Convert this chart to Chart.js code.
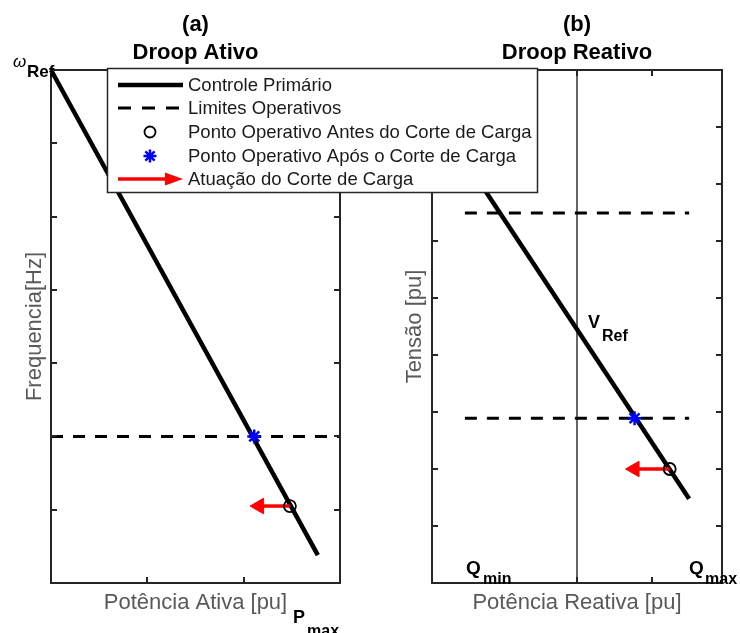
<!DOCTYPE html>
<html>
<head>
<meta charset="utf-8">
<title>Droop Ativo / Droop Reativo</title>
<script src="https://cdn.jsdelivr.net/npm/chart.js@4.4.1/dist/chart.umd.min.js"></script>
<style>
  html, body { margin: 0; padding: 0; background: #ffffff; }
  #wrap { position: relative; width: 740px; height: 633px; }
  #wrap canvas { position: absolute; left: 0; top: 0; }
</style>
</head>
<body>
<div id="wrap">
  <canvas id="painelA" width="740" height="633"></canvas>
  <canvas id="painelB" width="740" height="633"></canvas>
</div>
<script>
// ---- (a) Droop Ativo: frequência x potência ativa ----
const eixoAtivoX = [0, 3];
const eixoAtivoY = [0, 7];
const ticksAtivoX = [1, 2];
const ticksAtivoY = [1, 2, 3, 4, 5, 6];
const droopAtivoX = [0, 2.77];
const droopAtivoY = [7, 0.38];
const limiteAtivoX = [0, 3];
const limiteAtivoY = [2, 2];
const antesAtivoX = [2.48];
const antesAtivoY = [1.05];
const aposAtivoX = [2.11];
const aposAtivoY = [2];
const corteAtivoX = [2.48, 2.16];
const corteAtivoY = [1.05, 1.05];

// ---- (b) Droop Reativo: tensão x potência reativa ----
const eixoReativoX = [-1.94, 1.94];
const eixoReativoY = [0, 9];
const ticksReativoX = [0, 1];
const ticksReativoY = [1, 2, 3, 4, 5, 6, 7, 8];
const droopReativoX = [-1.5, 1.5];
const droopReativoY = [7.42, 1.48];
const limiteReativoX = [-1.5, 1.5];
const limiteSupY = [6.49, 6.49];
const limiteInfY = [2.89, 2.89];
const zeroReativoX = [0, 0];
const zeroReativoY = [0, 9];
const antesReativoX = [1.24];
const antesReativoY = [2.0];
const aposReativoX = [0.77];
const aposReativoY = [2.89];
const corteReativoX = [1.24, 0.77];
const corteReativoY = [2.0, 2.0];

// ---- legenda ----
const legendaTextos = [
  'Controle Primário',
  'Limites Operativos',
  'Ponto Operativo Antes do Corte de Carga',
  'Ponto Operativo Após o Corte de Carga',
  'Atuação do Corte de Carga'
];

const FONTE = '"Liberation Sans", Arial, Helvetica, sans-serif';
const COR_EIXO = '#262626';
const COR_ROTULO = '#595959';

function pts(xs, ys) { return xs.map((x, i) => ({ x: x, y: ys[i] })); }

// estilos das séries
const estiloDroop = { showLine: true, borderColor: '#000000', borderWidth: 4.5, pointRadius: 0, borderCapStyle: 'butt' };
const estiloLimite = { showLine: true, borderColor: '#000000', borderWidth: 3, borderDash: [12, 10], pointRadius: 0 };
const estiloAntes = { showLine: false, pointStyle: 'circle', pointRadius: 6, pointBorderWidth: 1.8,
  pointBorderColor: '#000000', pointBackgroundColor: 'rgba(0,0,0,0)' };
const estiloApos = { showLine: false, pointStyle: 'star', pointRadius: 7, pointBorderWidth: 2.5,
  pointBorderColor: '#0000ff', pointBackgroundColor: '#0000ff' };
const estiloCorte = { showLine: true, borderColor: '#ff0000', borderWidth: 3.5, pointStyle: 'triangle',
  pointRadius: [0, 9], pointRotation: -90, pointBackgroundColor: '#ff0000', pointBorderColor: '#ff0000', pointBorderWidth: 1 };

function serie(label, data, estilo, order) {
  return Object.assign({ label: label, data: data, order: order, clip: false }, estilo);
}

// moldura, marcas de escala internas, títulos e rótulos
function molduraPlugin(cfg) {
  return {
    id: 'moldura',
    afterDatasetsDraw(chart) {
      const ctx = chart.ctx;
      const a = chart.chartArea;
      const sx = chart.scales.x, sy = chart.scales.y;
      ctx.save();
      ctx.strokeStyle = COR_EIXO;
      ctx.lineWidth = 2;
      ctx.strokeRect(a.left, a.top, a.right - a.left, a.bottom - a.top);
      const L = 6;
      ctx.beginPath();
      cfg.ticksY.forEach(v => {
        const py = Math.round(sy.getPixelForValue(v));
        ctx.moveTo(a.left, py); ctx.lineTo(a.left + L, py);
        ctx.moveTo(a.right, py); ctx.lineTo(a.right - L, py);
      });
      cfg.ticksX.forEach(v => {
        const px = Math.round(sx.getPixelForValue(v));
        ctx.moveTo(px, a.bottom); ctx.lineTo(px, a.bottom - L);
        ctx.moveTo(px, a.top); ctx.lineTo(px, a.top + L);
      });
      ctx.stroke();

      const cx = (a.left + a.right) / 2;
      ctx.fillStyle = '#000000';
      ctx.textAlign = 'center';
      ctx.textBaseline = 'alphabetic';
      ctx.font = 'bold 22px ' + FONTE;
      ctx.fillText(cfg.titulo[0], cx, 31);
      ctx.fillText(cfg.titulo[1], cx, 59);

      ctx.fillStyle = COR_ROTULO;
      ctx.font = '22px ' + FONTE;
      ctx.fillText(cfg.rotuloX, cx, 609);

      ctx.save();
      ctx.translate(cfg.rotuloYx, (a.top + a.bottom) / 2);
      ctx.rotate(-Math.PI / 2);
      ctx.fillText(cfg.rotuloY, 0, 0);
      ctx.restore();

      ctx.textAlign = 'left';
      cfg.notas(ctx, a);
      ctx.restore();
    }
  };
}

function texto(ctx, s, x, y, fonte) {
  ctx.fillStyle = '#000000';
  ctx.font = fonte;
  ctx.fillText(s, x, y);
}

// legenda comum às duas figuras
const legendaPlugin = {
  id: 'legendaComum',
  afterDraw(chart) {
    const ctx = chart.ctx;
    const x0 = 107, y0 = 68, w = 431, h = 125;
    const linhas = [85, 108, 132, 156, 179];
    const xa = 118, xb = 183, xm = 150;
    ctx.save();
    ctx.fillStyle = '#ffffff';
    ctx.fillRect(x0, y0, w, h);
    ctx.strokeStyle = COR_EIXO;
    ctx.lineWidth = 1.5;
    ctx.strokeRect(x0 + 0.5, y0 + 0.5, w - 1, h - 1);

    // Controle Primário
    ctx.strokeStyle = estiloDroop.borderColor;
    ctx.lineWidth = estiloDroop.borderWidth;
    ctx.beginPath(); ctx.moveTo(xa, linhas[0]); ctx.lineTo(xb, linhas[0]); ctx.stroke();
    // Limites Operativos
    ctx.lineWidth = estiloLimite.borderWidth;
    ctx.setLineDash([13, 11]);
    ctx.beginPath(); ctx.moveTo(xa, linhas[1]); ctx.lineTo(xb, linhas[1]); ctx.stroke();
    ctx.setLineDash([]);
    // marcadores
    const H = Chart.helpers;
    ctx.strokeStyle = estiloAntes.pointBorderColor;
    ctx.fillStyle = estiloAntes.pointBackgroundColor;
    ctx.lineWidth = estiloAntes.pointBorderWidth;
    H.drawPoint(ctx, { pointStyle: 'circle', radius: 5.5, rotation: 0, borderWidth: estiloAntes.pointBorderWidth }, xm, linhas[2]);
    ctx.strokeStyle = estiloApos.pointBorderColor;
    ctx.fillStyle = estiloApos.pointBackgroundColor;
    ctx.lineWidth = estiloApos.pointBorderWidth;
    H.drawPoint(ctx, { pointStyle: 'star', radius: 6.5, rotation: 0, borderWidth: estiloApos.pointBorderWidth }, xm, linhas[3]);
    // seta
    ctx.strokeStyle = estiloCorte.borderColor;
    ctx.fillStyle = estiloCorte.borderColor;
    ctx.lineWidth = estiloCorte.borderWidth;
    ctx.beginPath(); ctx.moveTo(xa, linhas[4]); ctx.lineTo(170, linhas[4]); ctx.stroke();
    ctx.beginPath();
    ctx.moveTo(xb, linhas[4]);
    ctx.lineTo(165, linhas[4] - 6.5);
    ctx.lineTo(165, linhas[4] + 6.5);
    ctx.closePath(); ctx.fill();

    ctx.fillStyle = '#1a1a1a';
    ctx.font = '18.5px ' + FONTE;
    ctx.textAlign = 'left';
    ctx.textBaseline = 'middle';
    legendaTextos.forEach((t, i) => ctx.fillText(t, 188, linhas[i] + 1));
    ctx.restore();
  }
};

function opcoes(eixoX, eixoY, area) {
  return {
    responsive: false,
    animation: false,
    devicePixelRatio: 1,
    events: [],
    layout: { padding: { left: area[0], top: area[1], right: 740 - area[2], bottom: 633 - area[3] } },
    scales: {
      x: { type: 'linear', display: false, min: eixoX[0], max: eixoX[1] },
      y: { type: 'linear', display: false, min: eixoY[0], max: eixoY[1] }
    },
    plugins: { legend: { display: false }, tooltip: { enabled: false } }
  };
}

// ---- gráfico (a) ----
new Chart(document.getElementById('painelA'), {
  type: 'scatter',
  data: {
    datasets: [
      serie(legendaTextos[0], pts(droopAtivoX, droopAtivoY), estiloDroop, 5),
      serie(legendaTextos[1], pts(limiteAtivoX, limiteAtivoY), estiloLimite, 4),
      serie(legendaTextos[2], pts(antesAtivoX, antesAtivoY), estiloAntes, 2),
      serie(legendaTextos[3], pts(aposAtivoX, aposAtivoY), estiloApos, 1),
      serie(legendaTextos[4], pts(corteAtivoX, corteAtivoY), estiloCorte, 3)
    ]
  },
  options: opcoes(eixoAtivoX, eixoAtivoY, [51, 70, 340, 583]),
  plugins: [molduraPlugin({
    ticksX: ticksAtivoX, ticksY: ticksAtivoY,
    titulo: ['(a)', 'Droop Ativo'],
    rotuloX: 'Potência Ativa [pu]',
    rotuloY: 'Frequencia[Hz]', rotuloYx: 41,
    notas(ctx, a) {
      texto(ctx, 'ω', a.left - 38, a.top - 3, 'italic 17px ' + FONTE);
      texto(ctx, 'Ref', a.left - 24, a.top + 7, 'bold 17px ' + FONTE);
      texto(ctx, 'P', a.right - 47, a.bottom + 40, 'bold 18px ' + FONTE);
      texto(ctx, 'max', a.right - 33, a.bottom + 53, 'bold 16px ' + FONTE);
    }
  })]
});

// ---- gráfico (b) ----
new Chart(document.getElementById('painelB'), {
  type: 'scatter',
  data: {
    datasets: [
      serie('', pts(zeroReativoX, zeroReativoY), { showLine: true, borderColor: '#333333', borderWidth: 1.5, pointRadius: 0 }, 7),
      serie(legendaTextos[0], pts(droopReativoX, droopReativoY), estiloDroop, 5),
      serie(legendaTextos[1], pts(limiteReativoX, limiteSupY), estiloLimite, 4),
      serie(legendaTextos[1], pts(limiteReativoX, limiteInfY), estiloLimite, 4),
      serie(legendaTextos[2], pts(antesReativoX, antesReativoY), estiloAntes, 2),
      serie(legendaTextos[3], pts(aposReativoX, aposReativoY), estiloApos, 1),
      serie(legendaTextos[4], pts(corteReativoX, corteReativoY), estiloCorte, 3)
    ]
  },
  options: opcoes(eixoReativoX, eixoReativoY, [432, 70, 722, 583]),
  plugins: [molduraPlugin({
    ticksX: ticksReativoX, ticksY: ticksReativoY,
    titulo: ['(b)', 'Droop Reativo'],
    rotuloX: 'Potência Reativa [pu]',
    rotuloY: 'Tensão [pu]', rotuloYx: 421,
    notas(ctx, a) {
      texto(ctx, 'V', 588, 328, 'bold 18px ' + FONTE);
      texto(ctx, 'Ref', 602, 341, 'bold 16px ' + FONTE);
      texto(ctx, 'Q', 466, 574, 'bold 19px ' + FONTE);
      texto(ctx, 'min', 483, 584, 'bold 16px ' + FONTE);
      texto(ctx, 'Q', 689, 574, 'bold 19px ' + FONTE);
      texto(ctx, 'max', 705, 584, 'bold 16px ' + FONTE);
    }
  }), legendaPlugin]
});
</script>
</body>
</html>
